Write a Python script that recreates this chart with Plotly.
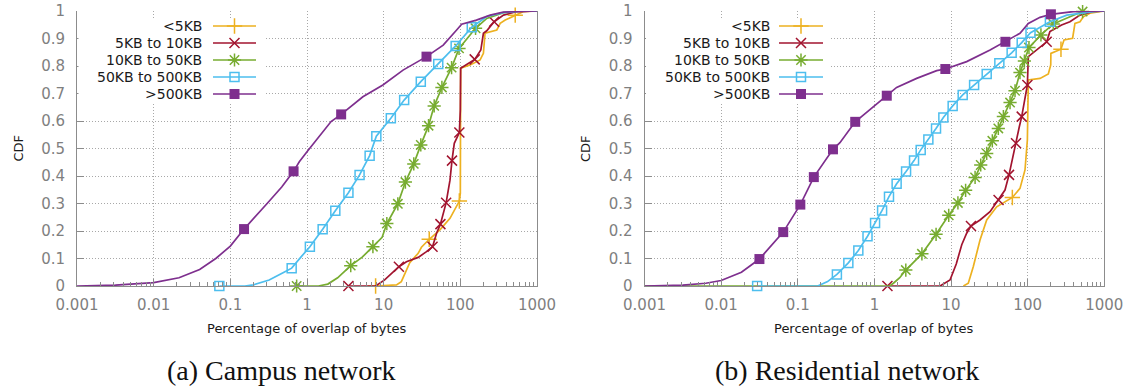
import plotly.graph_objects as go

# ---------------- data ----------------
series_names = ["<5KB", "5KB to 10KB", "10KB to 50KB", "50KB to 500KB", ">500KB"]
x_tick_vals = [0.001, 0.01, 0.1, 1, 10, 100, 1000]
x_tick_text = ["0.001", "0.01", "0.1", "1", "10", "100", "1000"]
y_tick_vals = [0, 0.1, 0.2, 0.3, 0.4, 0.5, 0.6, 0.7, 0.8, 0.9, 1]
y_tick_text = ["0", "0.1", "0.2", "0.3", "0.4", "0.5", "0.6", "0.7", "0.8", "0.9", "1"]

# ---- (a) Campus network ----
campus_lt5_x = [7.85, 14.7, 17.0, 20.0, 21.9, 28.2, 31.1, 39.3, 54.2, 73.3, 89.5, 97.1, 100, 101, 134, 181, 200, 210, 299, 331, 385, 520, 668, 1000]
campus_lt5_y = [0, 0.004, 0.016, 0.06, 0.085, 0.119, 0.141, 0.17, 0.204, 0.246, 0.288, 0.309, 0.337, 0.792, 0.804, 0.822, 0.846, 0.919, 0.931, 0.955, 0.967, 0.985, 0.998, 1.0]
campus_lt5_mx = [7.85, 39.3, 97.1, 520]
campus_lt5_my = [0, 0.17, 0.309, 0.985]

campus_5_10_x = [3.47, 7.85, 10.3, 15.8, 19.8, 28.2, 36.2, 43.4, 49.0, 55.0, 65.3, 73.3, 77.8, 83.4, 97.1, 100, 101, 154, 185, 200, 221, 276, 366, 550, 1000]
campus_5_10_y = [0, 0, 0.022, 0.07, 0.088, 0.104, 0.125, 0.143, 0.192, 0.225, 0.303, 0.385, 0.456, 0.519, 0.558, 0.64, 0.792, 0.824, 0.858, 0.919, 0.928, 0.961, 0.985, 0.998, 1.0]
campus_5_10_mx = [3.47, 15.8, 43.4, 55.0, 65.3, 77.8, 97.1, 154, 276]
campus_5_10_my = [0, 0.07, 0.143, 0.225, 0.303, 0.456, 0.558, 0.824, 0.961]

campus_10_50_x = [0.733, 1.41, 1.87, 2.51, 3.72, 5.25, 7.24, 9.55, 11.0, 15.3, 19.2, 24.7, 30.5, 38.5, 45.6, 57.5, 76.9, 96.2, 158, 221, 366, 631, 1000]
campus_10_50_y = [0, 0, 0.007, 0.03, 0.074, 0.105, 0.143, 0.177, 0.227, 0.299, 0.378, 0.444, 0.513, 0.583, 0.655, 0.722, 0.794, 0.864, 0.937, 0.973, 0.994, 1.0, 1.0]
campus_10_50_mx = [0.733, 3.72, 7.24, 11.0, 15.3, 19.2, 24.7, 30.5, 38.5, 45.6, 57.5, 76.9, 96.2, 158]
campus_10_50_my = [0, 0.074, 0.143, 0.227, 0.299, 0.378, 0.444, 0.513, 0.583, 0.655, 0.722, 0.794, 0.864, 0.937]

campus_50_500_x = [0.0719, 0.155, 0.2, 0.321, 0.501, 0.631, 0.832, 1.09, 1.6, 2.34, 3.47, 4.85, 6.56, 8.02, 12.4, 18.5, 30.5, 51.5, 86.9, 141, 221, 363, 661, 1000]
campus_50_500_y = [0, 0, 0.004, 0.022, 0.05, 0.065, 0.105, 0.143, 0.206, 0.274, 0.339, 0.404, 0.474, 0.545, 0.61, 0.676, 0.743, 0.807, 0.873, 0.941, 0.98, 0.994, 1.0, 1.0]
campus_50_500_mx = [0.0719, 0.631, 1.09, 1.6, 2.34, 3.47, 4.85, 6.56, 8.02, 12.4, 18.5, 30.5, 51.5, 86.9, 141]
campus_50_500_my = [0, 0.065, 0.143, 0.206, 0.274, 0.339, 0.404, 0.474, 0.545, 0.61, 0.676, 0.743, 0.807, 0.873, 0.941]

campus_gt500_x = [0.001, 0.00316, 0.01, 0.0214, 0.0398, 0.0646, 0.1, 0.151, 0.302, 0.468, 0.668, 0.794, 1.0, 1.45, 2.06, 2.79, 5.36, 9.77, 17.9, 36.2, 59.8, 89.5, 104, 162, 245, 363, 1000]
campus_gt500_y = [0, 0.003, 0.012, 0.03, 0.06, 0.10, 0.145, 0.207, 0.30, 0.36, 0.417, 0.452, 0.488, 0.543, 0.598, 0.624, 0.688, 0.731, 0.785, 0.834, 0.876, 0.931, 0.952, 0.967, 0.985, 0.996, 1.0]
campus_gt500_mx = [0.151, 0.668, 2.79, 36.2]
campus_gt500_my = [0.207, 0.417, 0.624, 0.834]

# ---- (b) Residential network ----
resid_lt5_x = [14.5, 16.8, 19.5, 23.9, 29.2, 39.4, 63.1, 79.4, 92.3, 99.1, 102, 145, 186, 200, 201, 272, 298, 386, 414, 482, 532, 650, 1000]
resid_lt5_y = [0, 0.01, 0.07, 0.167, 0.24, 0.288, 0.322, 0.355, 0.422, 0.531, 0.749, 0.755, 0.771, 0.804, 0.846, 0.861, 0.895, 0.901, 0.955, 0.961, 0.979, 0.992, 1.0]
resid_lt5_mx = [63.1, 272]
resid_lt5_my = [0.322, 0.861]

resid_5_10_x = [1.48, 7.19, 9.7, 11.7, 13.8, 16.0, 18.2, 23.9, 32.3, 41.7, 50.6, 57.1, 63.7, 70.5, 77.8, 83.6, 92.3, 99.1, 102, 131, 177, 195, 277, 356, 482, 719, 1000]
resid_5_10_y = [0, 0, 0.022, 0.08, 0.15, 0.192, 0.218, 0.24, 0.27, 0.313, 0.349, 0.404, 0.47, 0.519, 0.579, 0.616, 0.688, 0.731, 0.834, 0.858, 0.888, 0.925, 0.949, 0.961, 0.985, 0.998, 1.0]
resid_5_10_mx = [1.48, 18.2, 41.7, 57.1, 70.5, 83.6, 99.1, 177]
resid_5_10_my = [0, 0.218, 0.313, 0.404, 0.519, 0.616, 0.731, 0.888]

resid_10_50_x = [0.001, 1.58, 1.77, 2.14, 2.57, 4.17, 6.38, 9.33, 12.3, 15.5, 20.6, 24.4, 29.2, 34.6, 41.4, 48.2, 58.9, 68.4, 79.4, 90.6, 104, 149, 216, 356, 521, 1000]
resid_10_50_y = [0, 0, 0.01, 0.03, 0.058, 0.117, 0.188, 0.257, 0.302, 0.348, 0.395, 0.44, 0.482, 0.528, 0.573, 0.616, 0.667, 0.71, 0.776, 0.818, 0.867, 0.913, 0.953, 0.979, 0.998, 1.0]
resid_10_50_mx = [2.57, 4.17, 6.38, 9.33, 12.3, 15.5, 20.6, 24.4, 29.2, 34.6, 41.4, 48.2, 58.9, 68.4, 79.4, 90.6, 104, 149, 216, 521]
resid_10_50_my = [0.058, 0.117, 0.188, 0.257, 0.302, 0.348, 0.395, 0.44, 0.482, 0.528, 0.573, 0.616, 0.667, 0.71, 0.776, 0.818, 0.867, 0.913, 0.953, 0.998]

resid_50_500_x = [0.0295, 0.182, 0.245, 0.324, 0.457, 0.617, 0.813, 1.02, 1.26, 1.55, 1.95, 2.59, 3.29, 4.02, 5.06, 6.37, 7.94, 10.5, 14.2, 20.0, 29.2, 42.7, 61.8, 83.6, 109, 195, 324, 719, 1000]
resid_50_500_y = [0, 0, 0.016, 0.042, 0.084, 0.129, 0.181, 0.229, 0.275, 0.325, 0.372, 0.416, 0.456, 0.495, 0.533, 0.573, 0.613, 0.655, 0.695, 0.731, 0.771, 0.81, 0.848, 0.885, 0.921, 0.961, 0.985, 0.998, 1.0]
resid_50_500_mx = [0.0295, 0.324, 0.457, 0.617, 0.813, 1.02, 1.26, 1.55, 1.95, 2.59, 3.29, 4.02, 5.06, 6.37, 7.94, 10.5, 14.2, 20.0, 29.2, 42.7, 61.8, 83.6, 109, 195]
resid_50_500_my = [0, 0.042, 0.084, 0.129, 0.181, 0.229, 0.275, 0.325, 0.372, 0.416, 0.456, 0.495, 0.533, 0.573, 0.613, 0.655, 0.695, 0.731, 0.771, 0.81, 0.848, 0.885, 0.921, 0.961]

resid_gt500_x = [0.001, 0.00316, 0.00631, 0.01, 0.0184, 0.0316, 0.0646, 0.108, 0.162, 0.288, 0.355, 0.562, 1.45, 1.95, 3.56, 6.5, 8.43, 16.0, 32.3, 51.2, 79.4, 102, 145, 201, 394, 1000]
resid_gt500_y = [0, 0.003, 0.01, 0.02, 0.05, 0.098, 0.196, 0.296, 0.396, 0.497, 0.521, 0.597, 0.692, 0.722, 0.755, 0.783, 0.789, 0.816, 0.858, 0.888, 0.919, 0.955, 0.977, 0.988, 0.998, 1.0]
resid_gt500_mx = [0.0316, 0.0646, 0.108, 0.162, 0.288, 0.562, 1.45, 8.43, 51.2, 201]
resid_gt500_my = [0.098, 0.196, 0.296, 0.396, 0.497, 0.597, 0.692, 0.789, 0.888, 0.988]

captions = ["(a) Campus network", "(b) Residential network"]
x_title = "Percentage of overlap of bytes"
y_title = "CDF"

# ---------------- styling ----------------
W, H = 1131, 387
colors = ["#EDB120", "#A2142F", "#77AC30", "#4DBEEE", "#7E2F8E"]
symbols = ["cross-thin-open", "x-thin-open", "asterisk-open", "square-open", "square"]
msizes = [11, 10, 11, 9, 10]
GRAY = "#8c8c8c"
TICKFONT = dict(family="DejaVu Sans", size=15, color="#7f7f7f")

# panel geometry in pixels: (left, right), plot top/bottom
panels = [(77.0, 537.0), (644.5, 1104.3)]
P_TOP, P_BOT = 11.0, 286.0


def px(x):
    return x / W


def py(y):
    return 1 - y / H


panel_data = [
    [(campus_lt5_x, campus_lt5_y, campus_lt5_mx, campus_lt5_my),
     (campus_5_10_x, campus_5_10_y, campus_5_10_mx, campus_5_10_my),
     (campus_10_50_x, campus_10_50_y, campus_10_50_mx, campus_10_50_my),
     (campus_50_500_x, campus_50_500_y, campus_50_500_mx, campus_50_500_my),
     (campus_gt500_x, campus_gt500_y, campus_gt500_mx, campus_gt500_my)],
    [(resid_lt5_x, resid_lt5_y, resid_lt5_mx, resid_lt5_my),
     (resid_5_10_x, resid_5_10_y, resid_5_10_mx, resid_5_10_my),
     (resid_10_50_x, resid_10_50_y, resid_10_50_mx, resid_10_50_my),
     (resid_50_500_x, resid_50_500_y, resid_50_500_mx, resid_50_500_my),
     (resid_gt500_x, resid_gt500_y, resid_gt500_mx, resid_gt500_my)],
]


def marker_style(i):
    filled = symbols[i] == "square"
    return dict(symbol=symbols[i], size=msizes[i], color=colors[i],
                line=dict(color=colors[i], width=0 if filled else 1.5))


fig = go.Figure()

for p, series in enumerate(panel_data):
    xa = "x" if p == 0 else "x2"
    ya = "y" if p == 0 else "y2"
    for i, (lx, ly, mx, my) in enumerate(series):
        fig.add_trace(go.Scatter(x=lx, y=ly, mode="lines", xaxis=xa, yaxis=ya,
                                 line=dict(color=colors[i], width=1.7),
                                 showlegend=False, hoverinfo="skip"))
        fig.add_trace(go.Scatter(x=mx, y=my, mode="markers", xaxis=xa, yaxis=ya,
                                 marker=marker_style(i), showlegend=False,
                                 cliponaxis=False, hoverinfo="skip"))

# minor tick positions on the log axis (2..9 within every decade)
minor_vals = [m * d for d in [0.001, 0.01, 0.1, 1, 10, 100] for m in range(2, 10)]

axis_common_x = dict(
    type="log", range=[-3, 3], tickvals=x_tick_vals, ticktext=x_tick_text,
    showgrid=True, gridcolor="#a8a8a8", griddash="1px,2px", gridwidth=1,
    ticks="inside", ticklen=7, tickcolor=GRAY, tickwidth=1,
    showline=True, linecolor=GRAY, linewidth=1, mirror=False,
    tickfont=TICKFONT, ticklabelstandoff=5, zeroline=False, automargin=False,
    minor=dict(ticks="inside", ticklen=4, tickcolor=GRAY, tickvals=minor_vals, showgrid=False),
)
axis_common_y = dict(
    range=[0, 1], tickvals=y_tick_vals, ticktext=y_tick_text,
    showgrid=True, gridcolor="#a8a8a8", griddash="1px,2px", gridwidth=1,
    ticks="inside", ticklen=7, tickcolor=GRAY, tickwidth=1,
    showline=True, linecolor=GRAY, linewidth=1, mirror=True,
    tickfont=TICKFONT, ticklabelstandoff=8, zeroline=False, automargin=False,
)

ydom = [py(P_BOT), py(P_TOP)]
fig.update_layout(
    xaxis=dict(domain=[px(panels[0][0]), px(panels[0][1])], anchor="y", **axis_common_x),
    yaxis=dict(domain=ydom, anchor="x", **axis_common_y),
    xaxis2=dict(domain=[px(panels[1][0]), px(panels[1][1])], anchor="y2", **axis_common_x),
    yaxis2=dict(domain=ydom, anchor="x2", **axis_common_y),
    # overlay in pixel coordinates for the legend keys
    xaxis3=dict(domain=[0, 1], range=[0, W], visible=False, anchor="y3", fixedrange=True, automargin=False),
    yaxis3=dict(domain=[0, 1], range=[H, 0], visible=False, anchor="x3", fixedrange=True, automargin=False),
)

# legend geometry (pixels)
leg_rows = [26, 43, 60, 77, 94]
leg_text_right = [204, 772]
leg_line = [(213, 256), (779, 823)]
leg_box = [(78.5, 264), (646, 831)]
LEG_TOP, LEG_BOT = 18, 102

annotations = []
for p in range(2):
    left, right = panels[p]
    bx0, bx1 = leg_box[p]
    # opaque legend background (hides grid lines like the original key box)
    fig.add_trace(go.Scatter(x=[bx0, bx1, bx1, bx0, bx0], y=[LEG_TOP, LEG_TOP, LEG_BOT, LEG_BOT, LEG_TOP],
                             mode="lines", fill="toself", fillcolor="white",
                             line=dict(width=0, color="white"), xaxis="x3", yaxis="y3",
                             showlegend=False, hoverinfo="skip"))
    for i, name in enumerate(series_names):
        yy = leg_rows[i]
        annotations.append(dict(x=px(leg_text_right[p]), y=py(yy), xref="paper", yref="paper",
                                xanchor="right", yanchor="middle", showarrow=False, text=name,
                                font=dict(family="DejaVu Sans", size=14, color="#1a1a1a")))
        x0, x1 = leg_line[p]
        fig.add_trace(go.Scatter(x=[x0, x1], y=[yy, yy], mode="lines", xaxis="x3", yaxis="y3",
                                 line=dict(color=colors[i], width=1.7), showlegend=False,
                                 hoverinfo="skip"))
        fig.add_trace(go.Scatter(x=[(x0 + x1) / 2], y=[yy], mode="markers", xaxis="x3", yaxis="y3",
                                 marker=marker_style(i), showlegend=False, hoverinfo="skip"))

    cx = (left + right) / 2
    annotations.append(dict(x=px(cx), y=py(328), xref="paper", yref="paper", xanchor="center",
                            yanchor="middle", showarrow=False, text=x_title,
                            font=dict(family="DejaVu Sans", size=13, color="#1a1a1a")))
    annotations.append(dict(x=px(left - 59), y=py((P_TOP + P_BOT) / 2), xref="paper", yref="paper",
                            xanchor="center", yanchor="middle", showarrow=False, text=y_title,
                            textangle=-90,
                            font=dict(family="DejaVu Sans", size=13, color="#1a1a1a")))

annotations.append(dict(x=px(281), y=py(370), xref="paper", yref="paper", xanchor="center",
                        yanchor="middle", showarrow=False, text=captions[0],
                        font=dict(family="Liberation Serif", size=28, color="#111111")))
annotations.append(dict(x=px(847), y=py(370), xref="paper", yref="paper", xanchor="center",
                        yanchor="middle", showarrow=False, text=captions[1],
                        font=dict(family="Liberation Serif", size=28, color="#111111")))

fig.update_layout(
    width=W, height=H, margin=dict(l=0, r=0, t=0, b=0, autoexpand=False),
    paper_bgcolor="white", plot_bgcolor="rgba(0,0,0,0)",
    showlegend=False, annotations=annotations,
)

fig.write_html("out.html")
